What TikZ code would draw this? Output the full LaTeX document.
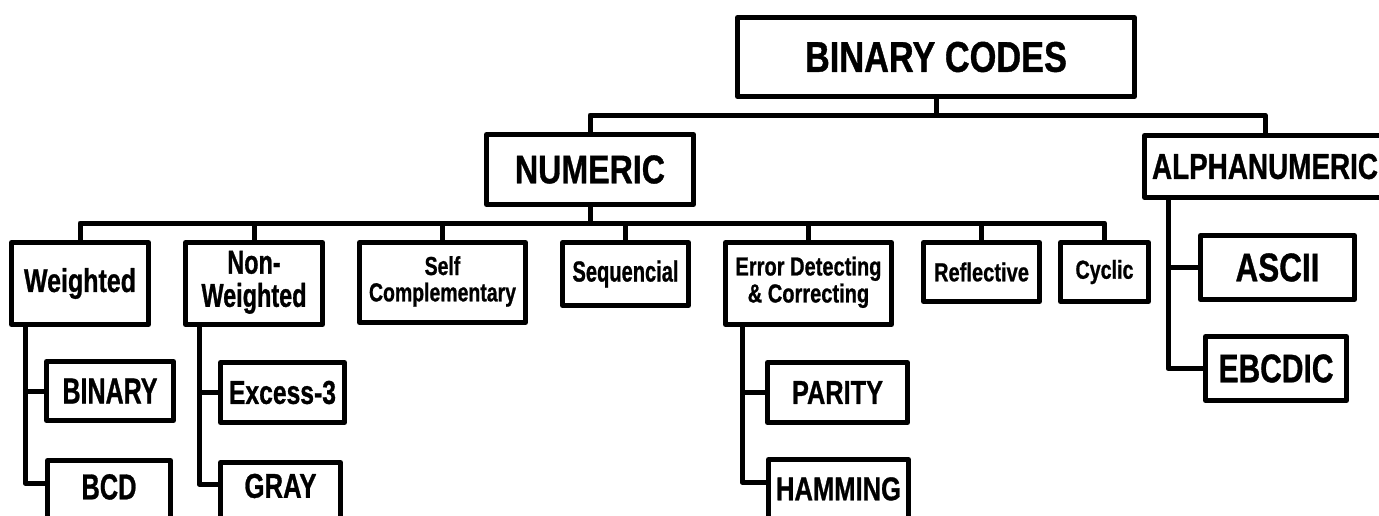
\documentclass[tikz,border=0pt]{standalone}
\usepackage{graphicx}
\usepackage{fontspec}
\setmainfont{Liberation Sans}[BoldFeatures={FakeBold=1}]
\usetikzlibrary{calc}
% one-line label: target width (pt), font size (pt), text
\newcommand\lbl[3]{\resizebox{#1pt}{\height}{\fontsize{#2pt}{#2pt}\selectfont\bfseries #3}}
% two-line label: target width, font size, line spacing, first line, second line
\newcommand\lbll[5]{\resizebox{#1pt}{\height}{\fontsize{#2pt}{#3pt}\selectfont\bfseries\begin{tabular}{@{}c@{}}#4\\#5\end{tabular}}}
\begin{document}
\begin{tikzpicture}[x=0.5pt,y=-0.5pt,
  box/.style={draw, rectangle, line width=2.5pt, line join=round, inner sep=0pt},
  sz/.style 2 args={minimum width=#1*0.5pt, minimum height=#2*0.5pt},
  link/.style={line width=2.5pt, line join=round}]
\useasboundingbox (0,0) rectangle (1379,515);
\clip (0,0) rectangle (1379,515);

% root and first level
\node[box, sz={397}{79}] (codes) at (936,57) {\lbl{131}{21.5}{BINARY CODES}};
\node[box, sz={207}{70}] (numeric) at (590,169.5) {\lbl{75}{20}{NUMERIC}};
\node[box, sz={241}{62}] (alpha) at (1265,166.5) {\lbl{113}{18}{ALPHANUMERIC}};

% numeric code families
\node[box, sz={137}{82}] (weighted) at (80,283.5) {\lbl{56}{16.5}{Weighted}};
\node[box, sz={137}{82}] (nonweighted) at (254,283.5) {\lbll{52.5}{16.5}{15.5}{Non-}{Weighted}};
\node[box, sz={166}{80}] (selfcomp) at (442.5,282.5) {\lbll{73.5}{13}{12.5}{Self}{Complementary}};
\node[box, sz={126}{63}] (sequential) at (625.5,274) {\lbl{53}{14.5}{Sequencial}};
\node[box, sz={166}{82}] (errordc) at (808.5,283.5) {\lbll{73}{13}{13.5}{Error Detecting}{\& Correcting}};
\node[box, sz={116}{59}] (reflective) at (981.5,272) {\lbl{47.5}{13}{Reflective}};
\node[box, sz={88}{59}] (cyclic) at (1104.5,272) {\lbl{29}{13}{Cyclic}};

% individual codes
\node[box, sz={127}{59}] (binary) at (110,391) {\lbl{47.5}{18}{BINARY}};
\node[box, sz={123}{70}, text height=12.8pt, text depth=9pt] (bcd) at (109,495.5) {\lbl{27.5}{18}{BCD}};
\node[box, sz={124}{60}] (excess) at (282.5,392.5) {\lbl{53.5}{16.5}{Excess-3}};
\node[box, sz={120}{70}, text height=12.3pt, text depth=12pt] (gray) at (280.5,497.5) {\lbl{36}{17.2}{GRAY}};
\node[box, sz={140}{60}] (parity) at (837.5,392.5) {\lbl{45.5}{16.5}{PARITY}};
\node[box, sz={140}{70}, text height=11.8pt, text depth=6pt] (hamming) at (838.5,494.5) {\lbl{62.5}{16.5}{HAMMING}};
\node[box, sz={154}{64}] (ascii) at (1277.5,267.5) {\lbl{42}{20}{ASCII}};
\node[box, sz={141}{64}] (ebcdic) at (1276,368.5) {\lbl{57.5}{20}{EBCDIC}};

% bus levels
\coordinate (busA) at (0,115);
\coordinate (busB) at (0,223);

\draw[link] (codes.south) -- (codes.south |- busA) -| (numeric.north);
\draw[link] (codes.south) -- (codes.south |- busA) -| (alpha.north);
\foreach \n in {weighted,nonweighted,selfcomp,sequential,errordc,reflective,cyclic}
  \draw[link] (numeric.south) -- (numeric.south |- busB) -| (\n.north);

% side taps down to the individual codes
\coordinate (wtap) at ($(weighted.south west)+(16,0)$);
\coordinate (ntap) at ($(nonweighted.south west)+(16,0)$);
\coordinate (etap) at ($(errordc.south west)+(19,0)$);
\coordinate (atap) at ($(alpha.south west)+(26,0)$);

\draw[link] (wtap) |- (binary.west);
\draw[link] (wtap) |- ($(bcd.north west)+(0,25)$);
\draw[link] (ntap) |- (excess.west);
\draw[link] (ntap) |- ($(gray.north west)+(0,24)$);
\draw[link] (etap) |- (parity.west);
\draw[link] (etap) |- ($(hamming.north west)+(0,25)$);
\draw[link] (atap) |- (ascii.west);
\draw[link] (atap) |- (ebcdic.west);
\end{tikzpicture}
\end{document}
